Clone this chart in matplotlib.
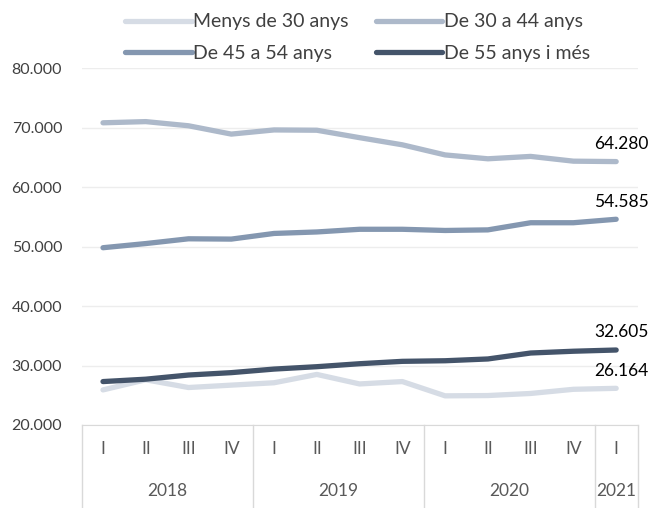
#!/usr/bin/env python3

import numpy as np
import matplotlib.pyplot as plt
from matplotlib.lines import Line2D

plt.rcParams['font.family'] = ['Lato', 'DejaVu Sans']

#### ========== Data ==========

quarters = ['I', 'II', 'III', 'IV', 'I', 'II', 'III', 'IV',
            'I', 'II', 'III', 'IV', 'I']
years    = ['2018', '2019', '2020', '2021']
yearLen  = [4, 4, 4, 1]

menys30  = [25900, 27600, 26300, 26700, 27100, 28500, 26900, 27300,
            24900, 24950, 25300, 26000, 26164]
de30a44  = [70800, 71000, 70300, 68900, 69600, 69550, 68300, 67100,
            65400, 64750, 65150, 64350, 64280]
de45a54  = [49800, 50500, 51300, 51250, 52200, 52450, 52900, 52900,
            52700, 52800, 54000, 54000, 54585]
de55     = [27300, 27700, 28400, 28800, 29400, 29800, 30300, 30700,
            30800, 31100, 32100, 32400, 32605]

labels = ['Menys de 30 anys', 'De 30 a 44 anys',
          'De 45 a 54 anys', 'De 55 anys i més']
colors = ['#D6DCE5', '#ADB9CA', '#8497B0', '#44546A']

#### ====== End of Data =======

def fmt( v ):
    return '{:,.0f}'.format( v ).replace( ',', '.' )

fig = plt.figure( figsize = ( 6.69, 5.08 ), dpi = 100 )
ax = fig.add_axes( [ 0.122, 0.1634, 0.831, 0.7026 ] )

x = np.arange( len( quarters ) )
series = [ menys30, de30a44, de45a54, de55 ]
handles = []
for s, c, l in zip( series, colors, labels ):
    h, = ax.plot( x, s, color = c, lw = 3.8, solid_capstyle = 'round',
                  label = l )
    handles.append( h )

# data labels on last point
for s in series:
    ax.annotate( fmt( s[-1] ), ( x[-1], s[-1] ), xytext = ( 4, 7 ),
                 textcoords = 'offset points', ha = 'center', va = 'bottom',
                 fontsize = 12.5, color = '#000000' )

ax.set_xlim( -0.5, len( quarters ) - 0.5 )
ax.set_ylim( 20000, 80000 )
yt = np.arange( 20000, 80001, 10000 )
ax.set_yticks( yt )
ax.set_yticklabels( [ fmt( v ) for v in yt ], fontsize = 11.5, color = '#404040' )
ax.tick_params( axis = 'y', length = 0, pad = 14 )
ax.set_xticks( [] )
ax.grid( axis = 'y', color = '#EDEDED', lw = 1 )
ax.set_axisbelow( True )
for sp in [ 'top', 'right', 'left' ]:
    ax.spines[sp].set_visible( False )
ax.spines['bottom'].set_color( '#D9D9D9' )

# category axis: quarters and years
trans = ax.get_xaxis_transform()
for i, q in enumerate( quarters ):
    ax.text( x[i], -0.067, q, transform = trans, ha = 'center', va = 'center',
             fontsize = 12.5, color = '#595959' )

edge = -0.5
bounds = [ edge ]
for y, n in zip( years, yearLen ):
    ax.text( edge + n / 2.0, -0.185, y, transform = trans, ha = 'center',
             va = 'center', fontsize = 12.5, color = '#595959' )
    edge += n
    bounds.append( edge )
for b in bounds:
    ax.add_line( Line2D( [ b, b ], [ 0, -0.235 ], transform = trans,
                         color = '#D9D9D9', lw = 1, clip_on = False ) )

# legend filled column-wise, so reorder to read row-wise
order = [ 0, 2, 1, 3 ]
fig.legend( [ handles[i] for i in order ], [ labels[i] for i in order ],
            loc = 'upper center', bbox_to_anchor = ( 0.535, 1.008 ), ncol = 2,
            frameon = False, fontsize = 14, handlelength = 3.4,
            handletextpad = 0.1, columnspacing = 1.4, labelspacing = 0.75,
            labelcolor = '#404040' )

fig.savefig( 'out.png', dpi = 100 )
